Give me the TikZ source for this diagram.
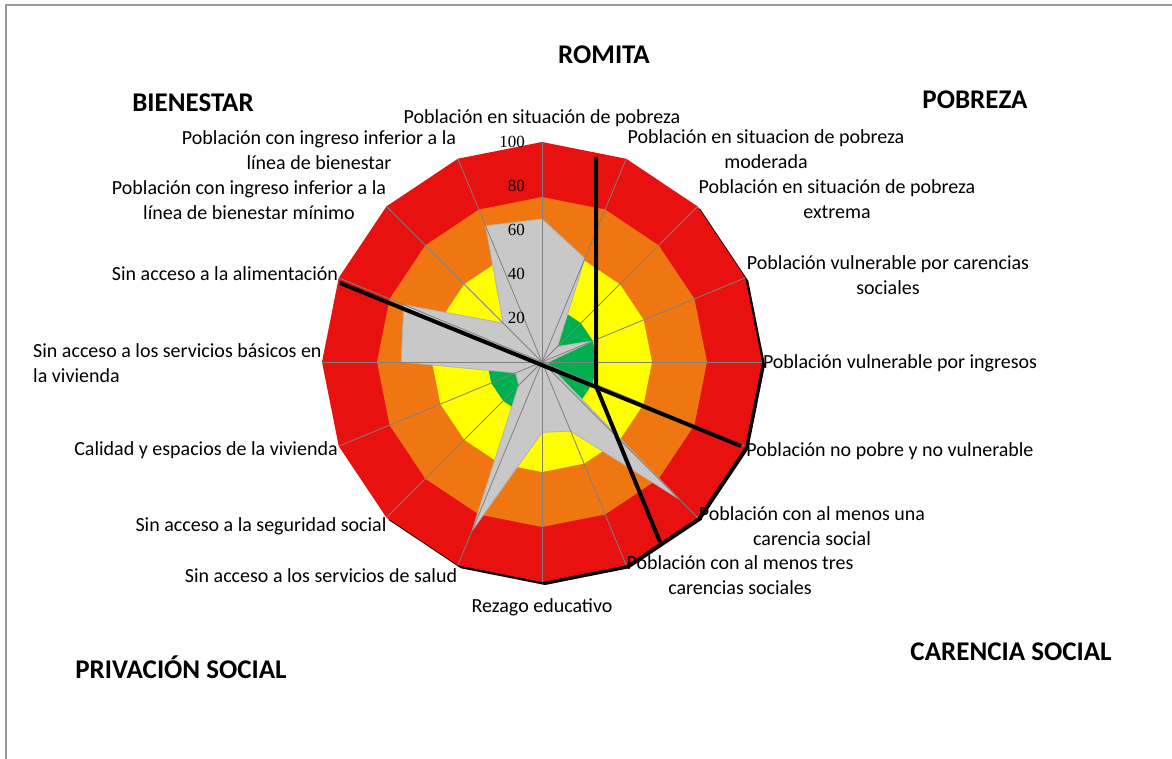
\documentclass[tikz,border=0pt]{standalone}
\usepackage{fontspec}
\setmainfont{Carlito}
\newfontfamily\tickfont{Liberation Serif}
\usepackage{tikz}

\definecolor{ringred}{RGB}{233,16,16}
\definecolor{ringorange}{RGB}{240,118,18}
\definecolor{ringyellow}{RGB}{255,255,0}
\definecolor{ringgreen}{RGB}{0,176,80}
\definecolor{datagray}{RGB}{200,200,200}

\tikzset{
  lbl/.style={font=\fontsize{20}{24.5}\selectfont, align=center, inner sep=0pt},
  head/.style={font=\fontsize{27}{30}\selectfont\bfseries, inner sep=0pt},
  tick/.style={font=\tickfont\fontsize{17}{17}\selectfont, anchor=east, inner sep=0pt},
  spoke/.style={draw=black!50, line width=0.8pt},
  datafill/.style={fill=datagray, draw=black!30, line width=0.8pt, line join=round},
  splitline/.style={draw=black, line width=4pt},
}

\begin{document}
\begin{tikzpicture}[x=1pt,y=-1pt]
\useasboundingbox (0,0) rectangle (1172,759);
\draw[black!40, line width=1.5pt] (6,759) -- (6,5) -- (1172,5);

% radar, center of the web
\begin{scope}[shift={(542,362)}]
  \fill[black, shift={(3,3)}] (-90:220) \foreach \k in {1,...,15} { -- ({22.5*\k-90}:220) } -- cycle;
  \fill[ringred] (-90:220) \foreach \k in {1,...,15} { -- ({22.5*\k-90}:220) } -- cycle;
  \fill[ringorange] (-90:165) \foreach \k in {1,...,15} { -- ({22.5*\k-90}:165) } -- cycle;
  \fill[ringyellow] (-90:110) \foreach \k in {1,...,15} { -- ({22.5*\k-90}:110) } -- cycle;
  \fill[ringgreen] (-90:55) \foreach \k in {1,...,15} { -- ({22.5*\k-90}:55) } -- cycle;

  % ROMITA values
  \path[datafill] (-90:{2.2*65})
    \foreach \v [count=\k] in {51,10,25,3,3,88,34,32,83,15,13,64,68,25,67} { -- ({22.5*\k-90}:{2.2*\v}) } -- cycle;

  \foreach \k in {0,...,15}
    \draw[spoke] (0,0) -- ({22.5*\k-90}:220);

  \foreach \v in {20,40,60,80,100}
    \node[tick] at (-17,{-2.2*\v}) {\v};
\end{scope}

% headings
\node[head] (romita) at (604,55) {ROMITA};
\node[head] (bienestar) at (193,103) {BIENESTAR};
\node[head] (pobrezaH) at (975,100) {POBREZA};
\node[head] (carenciaH) at (1011,652) {CARENCIA SOCIAL};
\node[head] (privacion) at (181,667) {PRIVACIÓN SOCIAL};

% axis labels
\node[lbl] (pobreza) at (542,118) {Población en situación de pobreza};
\node[lbl] (moderada) at (766,149) {Población en situacion de pobreza\\moderada};
\node[lbl] (extrema) at (837,199) {Población en situación de pobreza\\extrema};
\node[lbl] (vulCar) at (888,275) {Población vulnerable por carencias\\sociales};
\node[lbl] (vulIng) at (900,363) {Población vulnerable por ingresos};
\node[lbl] (noPobre) at (890,451) {Población no pobre y no vulnerable};
\node[lbl] (unaCar) at (812,526) {Población con al menos una\\carencia social};
\node[lbl] (tresCar) at (740,575) {Población con al menos tres\\carencias sociales};
\node[lbl] (rezago) at (542,607) {Rezago educativo};
\node[lbl] (salud) at (321,576) {Sin acceso a los servicios de salud};
\node[lbl] (segSocial) at (261,526) {Sin acceso a la seguridad social};
\node[lbl] (calidad) at (206,450) {Calidad y espacios de la vivienda};
\node[lbl, align=left, anchor=west] (servicios) at (33,363) {Sin acceso a los servicios básicos en\\la vivienda};
\node[lbl] (alimentacion) at (225,274) {Sin acceso a la alimentación};
\node[lbl] (bienMin) at (249,200) {Población con ingreso inferior a la\\línea de bienestar mínimo};
\node[lbl] (bien) at (319,150) {Población con ingreso inferior a la\\línea de bienestar};

% dividing lines
\coordinate (cutW) at (340,283);
\coordinate (cutE) at (741,446);
\coordinate (cutN) at (596,157);
\coordinate (cruce) at (596,386);
\coordinate (cutS) at (660,542);
\draw[splitline] (cutW) -- (cutE);
\draw[splitline] (cutN) -- (cruce) -- (cutS);
\end{tikzpicture}
\end{document}
